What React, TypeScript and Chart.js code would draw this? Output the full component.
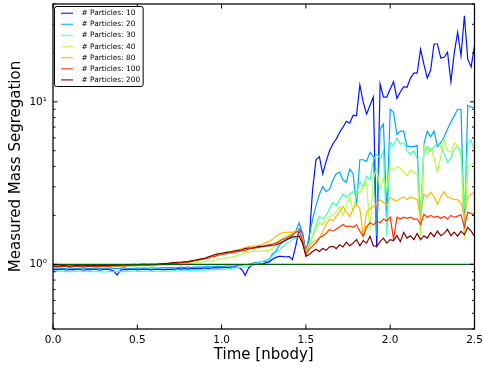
import React, { useEffect, useRef } from 'react';
import { Chart, registerables } from 'chart.js';

Chart.register(...registerables);

// sample times (step 0.02 nbody)
const times: number[] = Array.from({ length: 126 }, (_, i) => Math.round(i * 2) / 100);

const particleCounts = [10, 20, 30, 40, 80, 100, 200];
const seriesColors = [
  'rgb(0,18,255)',
  'rgb(0,164,255)',
  'rgb(65,255,182)',
  'rgb(182,255,65)',
  'rgb(255,185,0)',
  'rgb(255,50,0)',
  'rgb(128,0,0)',
];

const p10 = [
  0.93, 0.925, 0.93, 0.935, 0.92, 0.93, 0.925, 0.935, 0.93, 0.92,
  0.93, 0.925, 0.935, 0.93, 0.92, 0.93, 0.935, 0.925, 0.91, 0.86,
  0.92, 0.93, 0.925, 0.935, 0.93, 0.925, 0.93, 0.935, 0.93, 0.925,
  0.93, 0.935, 0.93, 0.925, 0.935, 0.93, 0.935, 0.94, 0.935, 0.94,
  0.935, 0.94, 0.945, 0.94, 0.945, 0.95, 0.945, 0.95, 0.955, 0.95,
  0.955, 0.96, 0.955, 0.96, 0.965, 0.96, 0.93, 0.855, 0.95, 0.99,
  1.0, 1.01, 1.0, 1.02, 1.03, 1.07, 1.1, 1.12, 1.12, 1.11,
  1.12, 1.07, 1.3, 1.65, 1.55,
  1.2, 1.45, 2.9, 4.4, 4.6, 3.6, 4.3, 5.0, 5.5, 5.9,
  6.5, 6.98, 7.6, 7.39, 8.28, 8.2, 12.7, 9.95, 8.4, 9.5,
  10.7, 1.27, 12.9, 10.7, 10.7, 12.0, 13.3, 10.5, 11.5, 12.4,
  12.3, 14.0, 15.0, 15.0, 21.1, 17.0, 14.0, 15.7, 22.7, 22.7,
  18.6, 18.8, 20.2, 13.3, 20.0, 26.8, 19.2, 33.9, 18.3, 16.4,
  22.1,
];

const p20 = [
  0.95, 0.945, 0.95, 0.94, 0.945, 0.95, 0.945, 0.94, 0.945, 0.95,
  0.945, 0.94, 0.945, 0.95, 0.945, 0.94, 0.945, 0.95, 0.945, 0.94,
  0.945, 0.95, 0.945, 0.94, 0.945, 0.95, 0.945, 0.95, 0.945, 0.95,
  0.95, 0.945, 0.95, 0.955, 0.95, 0.955, 0.95, 0.955, 0.96, 0.955,
  0.96, 0.955, 0.96, 0.965, 0.96, 0.965, 0.97, 0.965, 0.97, 0.975,
  0.97, 0.975, 0.98, 0.975, 0.98, 0.985, 0.99, 0.995, 1.0, 1.01,
  1.03, 1.03, 1.04, 1.04, 1.05, 1.15, 1.2, 1.3, 1.37, 1.42,
  1.45, 1.5, 1.6, 1.8, 1.55,
  1.15, 1.5, 1.9, 2.3, 2.7, 3.0, 2.8, 2.9, 3.3, 3.6,
  3.7, 3.3, 3.2, 3.85, 3.6, 2.3, 4.4, 4.4, 4.3, 4.9,
  4.6, 1.5, 6.8, 7.3, 2.0, 9.0, 8.6, 6.3, 6.6, 6.6,
  5.3, 5.3, 5.3, 5.4, 1.6, 5.5, 6.6, 6.1, 6.6, 5.3,
  5.6, 6.1, 6.8, 7.5, 8.2, 9.0, 9.0, 1.55, 9.5, 9.3,
  9.2,
];

const p30 = [
  0.905, 0.9, 0.905, 0.91, 0.9, 0.905, 0.9, 0.905, 0.91, 0.905,
  0.9, 0.905, 0.9, 0.905, 0.9, 0.895, 0.9, 0.905, 0.9, 0.905,
  0.9, 0.905, 0.9, 0.905, 0.91, 0.905, 0.9, 0.905, 0.91, 0.905,
  0.905, 0.91, 0.905, 0.91, 0.905, 0.91, 0.915, 0.91, 0.915, 0.91,
  0.915, 0.92, 0.915, 0.92, 0.925, 0.92, 0.925, 0.93, 0.925, 0.93,
  0.935, 0.93, 0.94, 0.945, 0.95, 0.955, 0.96, 0.97, 0.98, 0.99,
  1.0, 1.02, 1.04, 1.06, 1.08, 1.12, 1.18, 1.22, 1.28, 1.33,
  1.37, 1.42, 1.46, 1.5, 1.35,
  1.15, 1.3, 1.5, 1.75, 1.97, 1.9, 2.0, 2.2, 2.4, 2.3,
  2.5, 2.7, 2.6, 2.7, 2.8, 2.75, 3.2, 3.0, 3.5, 3.3,
  4.4, 4.75, 4.5, 5.0, 1.5, 5.6, 5.4, 6.0, 5.5, 5.6,
  5.0, 4.75, 5.0, 4.5, 2.1, 4.8, 5.3, 5.0, 5.3, 5.6,
  5.3, 4.8, 4.25, 4.5, 5.1, 5.3, 5.0, 2.2, 5.5, 5.8,
  5.0,
];

const p40 = [
  0.975, 0.98, 0.975, 0.98, 0.985, 0.98, 0.975, 0.98, 0.985, 0.98,
  0.98, 0.975, 0.98, 0.985, 0.98, 0.975, 0.98, 0.985, 0.98, 0.975,
  0.98, 0.985, 0.98, 0.975, 0.98, 0.985, 0.98, 0.985, 0.98, 0.985,
  0.98, 0.985, 0.99, 0.985, 0.99, 0.99, 0.995, 0.99, 0.995, 1.0,
  1.01, 1.015, 1.02, 1.025, 1.03, 1.04, 1.045, 1.05, 1.06, 1.07,
  1.08, 1.09, 1.1, 1.11, 1.12, 1.14, 1.15, 1.18, 1.19, 1.2,
  1.2, 1.2, 1.21, 1.21, 1.22, 1.25, 1.32, 1.4, 1.46, 1.5,
  1.52, 1.55, 1.58, 1.6, 1.4,
  1.2, 1.35, 1.49, 1.65, 1.81, 1.75, 1.9, 1.97, 2.0, 2.1,
  2.27, 2.0, 2.3, 2.62, 2.1, 2.7, 2.8, 3.0, 3.2, 1.6,
  3.4, 3.85, 2.9, 3.4, 2.9, 3.96, 3.8, 4.0, 3.9, 3.7,
  3.5, 3.8, 3.7, 3.6, 1.49, 5.5, 4.8, 5.2, 4.5, 3.7,
  4.6, 5.9, 5.0, 4.9, 5.6, 5.3, 4.6, 1.42, 4.0, 4.1,
  4.25,
];

const p80 = [
  0.975, 0.97, 0.975, 0.98, 0.975, 0.97, 0.975, 0.98, 0.975, 0.98,
  0.975, 0.98, 0.975, 0.97, 0.975, 0.98, 0.975, 0.98, 0.985, 0.98,
  0.985, 0.98, 0.985, 0.99, 0.985, 0.99, 0.99, 0.995, 0.99, 0.995,
  1.0, 1.0, 1.005, 1.01, 1.01, 1.015, 1.02, 1.025, 1.03, 1.035,
  1.04, 1.05, 1.06, 1.07, 1.08, 1.09, 1.11, 1.12, 1.14, 1.16,
  1.17, 1.18, 1.19, 1.2, 1.22, 1.23, 1.25, 1.27, 1.28, 1.29,
  1.3, 1.31, 1.33, 1.36, 1.38, 1.42, 1.48, 1.53, 1.56, 1.57,
  1.58, 1.58, 1.6, 1.62, 1.45,
  1.18, 1.3, 1.37, 1.4, 1.45, 1.6, 1.75, 1.9, 1.85, 1.97,
  2.1, 2.27, 2.1, 1.97, 2.2, 2.34, 2.2, 1.49, 2.1, 2.2,
  2.27, 2.35, 2.5, 2.4, 2.3, 2.58, 2.5, 2.45, 2.55, 2.6,
  2.5, 2.6, 2.55, 2.5, 1.95, 2.7, 2.6, 2.78, 2.6, 2.34,
  2.6, 2.8, 2.6, 2.55, 2.5, 2.5, 2.4, 1.97, 2.58, 2.7,
  2.78,
];

const p100 = [
  0.97, 0.965, 0.97, 0.975, 0.97, 0.965, 0.97, 0.975, 0.97, 0.965,
  0.97, 0.975, 0.97, 0.975, 0.97, 0.975, 0.97, 0.975, 0.98, 0.975,
  0.98, 0.975, 0.98, 0.985, 0.98, 0.985, 0.985, 0.99, 0.985, 0.99,
  0.99, 0.995, 1.0, 1.0, 1.005, 1.01, 1.01, 1.015, 1.02, 1.025,
  1.03, 1.04, 1.05, 1.06, 1.07, 1.08, 1.09, 1.11, 1.12, 1.14,
  1.15, 1.16, 1.17, 1.18, 1.19, 1.2, 1.21, 1.22, 1.24, 1.25,
  1.26, 1.27, 1.28, 1.3, 1.32, 1.33, 1.35, 1.38, 1.42, 1.45,
  1.49, 1.52, 1.58, 1.6, 1.4,
  1.15, 1.24, 1.3, 1.36, 1.45, 1.5, 1.55, 1.64, 1.6, 1.65,
  1.7, 1.76, 1.7, 1.72, 1.69, 1.75, 1.6, 1.49, 1.7, 1.8,
  1.75, 1.84, 1.8, 1.9, 1.85, 1.95, 1.43, 1.95, 1.9, 1.95,
  1.92, 1.95, 1.9, 1.9, 1.76, 2.03, 1.95, 2.0, 1.95, 1.97,
  1.92, 1.97, 1.9, 2.0, 1.95, 1.98, 2.02, 1.69, 2.09, 2.05,
  2.03,
];

const p200 = [
  0.98, 0.975, 0.98, 0.985, 0.98, 0.975, 0.98, 0.985, 0.98, 0.98,
  0.985, 0.98, 0.985, 0.98, 0.985, 0.99, 0.985, 0.99, 0.985, 0.99,
  0.99, 0.995, 0.99, 0.995, 1.0, 0.995, 1.0, 1.005, 1.0, 1.005,
  1.0, 1.005, 1.01, 1.01, 1.015, 1.02, 1.025, 1.03, 1.03, 1.035,
  1.04, 1.05, 1.06, 1.07, 1.08, 1.09, 1.11, 1.13, 1.15, 1.16,
  1.17, 1.18, 1.19, 1.2, 1.21, 1.22, 1.23, 1.25, 1.26, 1.26,
  1.27, 1.29, 1.29, 1.3, 1.3, 1.31, 1.32, 1.34, 1.37, 1.4,
  1.44, 1.47, 1.48, 1.49, 1.35,
  1.12, 1.15, 1.2, 1.24, 1.2, 1.25, 1.22, 1.28, 1.29, 1.25,
  1.32, 1.28, 1.37, 1.3, 1.35, 1.42, 1.3, 1.4, 1.35, 1.49,
  1.3, 1.29, 1.38, 1.45, 1.35, 1.42, 1.4, 1.5, 1.38, 1.57,
  1.45, 1.5, 1.42, 1.55, 1.42, 1.5, 1.45, 1.57, 1.48, 1.6,
  1.5, 1.55, 1.64, 1.5, 1.58, 1.49, 1.6, 1.52, 1.69, 1.6,
  1.49,
];

const referenceLevel = 1;
const xTickValues = [0, 0.5, 1.0, 1.5, 2.0, 2.5];
const yMajorTicks = [1, 10];
const yMinorTicks = [0.4, 0.5, 0.6, 0.7, 0.8, 0.9, 2, 3, 4, 5, 6, 7, 8, 9, 20, 30, 40];

const FONT = "'DejaVu Sans', 'Liberation Sans', sans-serif";

const framePlugin = {
  id: 'mplFrame',
  afterDraw(chart: any) {
    const { ctx, chartArea: a, scales } = chart;
    const xs = scales.x;
    const ys = scales.y;
    ctx.save();
    ctx.strokeStyle = '#000';
    ctx.lineWidth = 1;
    ctx.beginPath();
    for (const v of xTickValues) {
      const px = xs.getPixelForValue(v);
      ctx.moveTo(px, a.bottom);
      ctx.lineTo(px, a.bottom - 4.5);
      ctx.moveTo(px, a.top);
      ctx.lineTo(px, a.top + 4.5);
    }
    for (const v of yMajorTicks) {
      const py = ys.getPixelForValue(v);
      ctx.moveTo(a.left, py);
      ctx.lineTo(a.left + 4.5, py);
      ctx.moveTo(a.right, py);
      ctx.lineTo(a.right - 4.5, py);
    }
    for (const v of yMinorTicks) {
      const py = ys.getPixelForValue(v);
      ctx.moveTo(a.left, py);
      ctx.lineTo(a.left + 2.5, py);
      ctx.moveTo(a.right, py);
      ctx.lineTo(a.right - 2.5, py);
    }
    ctx.stroke();
    ctx.lineWidth = 1.25;
    ctx.strokeRect(a.left, a.top, a.right - a.left, a.bottom - a.top);

    // legend (upper left, inside axes)
    const labels = particleCounts.map((n) => `# Particles: ${n}`);
    ctx.font = `7.4px ${FONT}`;
    const maxW = Math.max(...labels.map((t) => ctx.measureText(t).width));
    const lx = a.left + 1.5;
    const ly = a.top + 2.5;
    const textX = lx + 27;
    const w = textX + maxW + 3 - lx;
    const rowH = 11.1;
    const h = 80;
    ctx.beginPath();
    if (ctx.roundRect) ctx.roundRect(lx, ly, w, h, 2);
    else ctx.rect(lx, ly, w, h);
    ctx.fillStyle = '#fff';
    ctx.fill();
    ctx.lineWidth = 1;
    ctx.strokeStyle = '#000';
    ctx.stroke();
    labels.forEach((t, k) => {
      const y = ly + 6.8 + k * rowH;
      ctx.save();
      ctx.globalAlpha = 0.75;
      ctx.strokeStyle = seriesColors[k];
      ctx.lineWidth = 1.5;
      ctx.beginPath();
      ctx.moveTo(lx + 6.5, y);
      ctx.lineTo(lx + 18.5, y);
      ctx.stroke();
      ctx.restore();
      ctx.fillStyle = '#000';
      ctx.textBaseline = 'middle';
      ctx.textAlign = 'left';
      ctx.fillText(t, textX, y);
    });
    ctx.restore();
  },
};

export default function App() {
  const ref = useRef<HTMLCanvasElement | null>(null);

  useEffect(() => {
    const canvas = ref.current;
    if (!canvas) return;
    Chart.defaults.font.family = FONT;
    const series = [p10, p20, p30, p40, p80, p100, p200];
    const datasets: any[] = series.map((vals, k) => ({
      label: `# Particles: ${particleCounts[k]}`,
      data: vals.map((v, i) => ({ x: times[i], y: v })),
      borderColor: seriesColors[k],
      backgroundColor: seriesColors[k],
      borderWidth: 1.2,
      pointRadius: 0,
      tension: 0,
      fill: false,
      order: series.length - k,
    }));
    datasets.push({
      label: 'reference',
      data: [
        { x: times[0], y: referenceLevel },
        { x: times[times.length - 1], y: referenceLevel },
      ],
      borderColor: '#0b5a0b',
      backgroundColor: '#0b5a0b',
      borderWidth: 1.1,
      pointRadius: 0,
      fill: false,
      order: 0,
    });

    const chart = new Chart(canvas, {
      type: 'line',
      data: { datasets },
      options: {
        responsive: false,
        animation: false,
        layout: { padding: { top: 4, right: 8.5, bottom: 0, left: 0 } },
        plugins: { legend: { display: false }, tooltip: { enabled: false } },
        scales: {
          x: {
            type: 'linear',
            min: 0,
            max: 2.5,
            grid: { display: false, drawTicks: false },
            border: { display: false },
            afterBuildTicks: (s: any) => {
              s.ticks = xTickValues.map((v) => ({ value: v }));
            },
            ticks: {
              padding: 4.5,
              color: '#000',
              autoSkip: false,
              maxRotation: 0,
              font: { size: 10.5 },
              callback: (v: any) => Number(v).toFixed(1),
            },
            title: {
              display: true,
              text: 'Time [nbody]',
              color: '#000',
              font: { size: 15 },
              padding: { top: 0, bottom: 5 },
            },
            afterFit: (s: any) => {
              s.height = 40;
              s.paddingLeft = 0;
              s.paddingRight = 0;
            },
          },
          y: {
            type: 'logarithmic',
            min: 0.4,
            max: 40,
            grid: { display: false, drawTicks: false },
            border: { display: false },
            afterBuildTicks: (s: any) => {
              s.ticks = yMajorTicks.map((v) => ({ value: v, major: true }));
            },
            ticks: {
              padding: 6,
              color: '#000',
              autoSkip: false,
              font: { size: 10.5 },
              callback: (v: any) => {
                const n = Number(v);
                if (Math.abs(n - 1) < 1e-9) return '10⁰';
                if (Math.abs(n - 10) < 1e-9) return '10¹';
                return '';
              },
            },
            title: {
              display: true,
              text: 'Measured Mass Segregation',
              color: '#000',
              font: { size: 15 },
              padding: { top: 7, bottom: 0 },
            },
            afterFit: (s: any) => {
              s.width = 53;
              s.paddingTop = 0;
              s.paddingBottom = 0;
            },
          },
        },
      } as any,
      plugins: [framePlugin],
    });
    return () => chart.destroy();
  }, []);

  return (
    <div style={{ position: 'absolute', left: 0, top: 0, width: 483, height: 369, background: '#fff' }}>
      <canvas ref={ref} width={483} height={369} style={{ display: 'block' }} />
    </div>
  );
}
